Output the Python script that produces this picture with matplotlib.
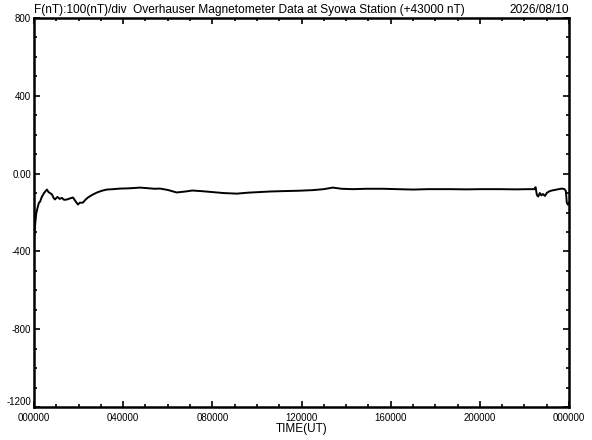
import matplotlib
matplotlib.use("Agg")
import matplotlib.pyplot as plt
from matplotlib.ticker import MultipleLocator, FixedLocator

# time in hours (UT) and total field offset from 43000 nT
hours = [0.00, 0.03, 0.06, 0.10, 0.15, 0.22, 0.27, 0.35, 0.45, 0.52, 0.58, 0.65,
         0.72, 0.81, 0.88, 0.94, 1.05, 1.15, 1.25, 1.35, 1.48, 1.60, 1.75, 1.85,
         1.97, 2.05, 2.20, 2.30, 2.42, 2.60, 2.83, 3.05, 3.27, 3.55, 3.86, 4.20,
         4.50, 4.75, 5.10, 5.40, 5.65, 6.00, 6.40, 6.80, 7.10, 7.50, 8.00, 8.50,
         9.10, 9.60, 10.10, 10.60, 11.20, 11.90, 12.50, 13.00, 13.40, 13.80, 14.30,
         14.90, 15.65, 16.30, 17.00, 17.70, 18.65, 19.40, 20.10, 20.90, 21.60,
         22.20, 22.45, 22.50, 22.56, 22.62, 22.69, 22.76, 22.83, 22.92, 23.00,
         23.10, 23.23, 23.45, 23.68, 23.80, 23.86, 23.90, 23.95, 24.00]
field = [-340, -300, -250, -205, -180, -150, -145, -120, -100, -90, -82, -95,
         -100, -108, -125, -133, -120, -130, -125, -135, -133, -128, -123, -140,
         -159, -150, -149, -135, -123, -110, -97, -88, -82, -80, -77, -76,
         -74, -72, -75, -78, -77, -84, -97, -92, -87, -90, -95, -100,
         -103, -98, -95, -92, -90, -88, -85, -80, -72, -78, -80,
         -78, -78, -80, -82, -80, -80, -81, -80, -80, -81,
         -80, -80, -70, -110, -118, -100, -112, -105, -115, -100,
         -92, -87, -82, -77, -80, -90, -149, -160, -150]

ytick_vals = [-1200, -800, -400, 0, 400, 800]
ytick_labels = ["-1200", "-800", "-400", "0.00", "400", "800"]
xtick_vals = [0, 4, 8, 12, 16, 20, 24]
xtick_labels = ["000000", "040000", "080000", "120000", "160000", "200000", "000000"]

title_left = "F(nT):100(nT)/div  Overhauser Magnetometer Data at Syowa Station (+43000 nT)"
title_right = "2026/08/10"

plt.rcParams['font.family'] = ['Liberation Sans', 'DejaVu Sans']

fig = plt.figure(figsize=(5.92, 4.40), dpi=100)
ax = fig.add_axes([34/592, 33/440, 535/592, 389/440])

ax.plot(hours, field, color='black', lw=1.4)

ax.set_xlim(0, 24)
ax.set_ylim(-1200, 800)
ax.xaxis.set_major_locator(FixedLocator(xtick_vals))
ax.set_xticklabels(xtick_labels)
ax.xaxis.set_minor_locator(MultipleLocator(1))
ax.yaxis.set_major_locator(FixedLocator(ytick_vals))
ax.set_yticklabels(ytick_labels)
ax.yaxis.set_minor_locator(MultipleLocator(100))

ax.tick_params(which='both', direction='in', top=True, right=True,
               labelsize=7, width=1.2, colors='black', pad=2)
ax.tick_params(axis='x', which='both', pad=4.5)
ax.tick_params(which='major', length=4)
ax.tick_params(which='minor', length=2.5)
for sp in ax.spines.values():
    sp.set_linewidth(1.8)

# nudge the lowest y label up so it clears the first time label
ax.get_yticklabels()[0].set_verticalalignment('bottom')

ax.set_xlabel("TIME(UT)", fontsize=8.5, labelpad=0)
ax.text(0.0, 1.005, title_left, transform=ax.transAxes, fontsize=8.6,
        ha='left', va='bottom')
ax.text(1.0, 1.005, title_right, transform=ax.transAxes, fontsize=8.6,
        ha='right', va='bottom')

fig.savefig("out.png", dpi=100)
